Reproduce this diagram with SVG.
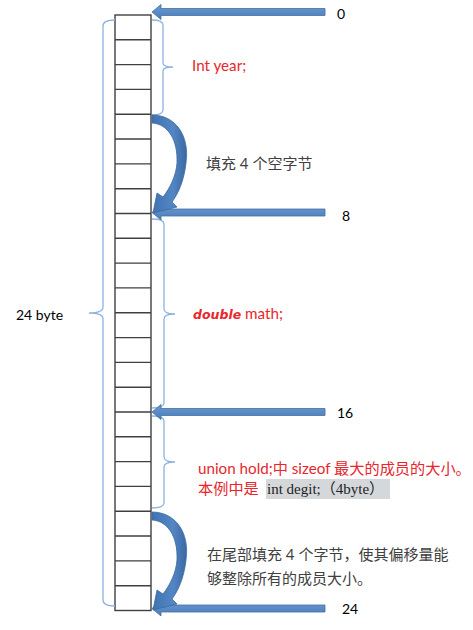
<svg xmlns="http://www.w3.org/2000/svg" width="473" height="630" viewBox="0 0 473 630">
<style>
.cell{fill:#fff;stroke:#404040;stroke-width:1.4}
.line{stroke:#404040;stroke-width:1.4}
.brace{fill:none;stroke:#8db3e2;stroke-width:1.3}
.arrow{fill:url(#ag);stroke:#41719c;stroke-width:0.8}
.curve{fill:url(#cg);stroke:#3b6aa0;stroke-width:0.8}
.lbl{font-family:Lato,"Liberation Sans",sans-serif;font-size:14px;fill:#000}
.red{font-family:Lato,"Noto Sans CJK SC",sans-serif;font-size:15.2px;fill:#e8262b}
.cn{font-family:Lato,"Noto Sans CJK SC",sans-serif;font-size:15px;fill:#404040}
.serif{font-family:"Liberation Serif","Noto Sans CJK SC",serif;font-size:15px;fill:#222}
</style>
<defs>
<linearGradient id="ag" x1="0" y1="0" x2="0" y2="1">
<stop offset="0" stop-color="#6a9ad4"/><stop offset="1" stop-color="#4a7cba"/>
</linearGradient>
<linearGradient id="cg" x1="0" y1="0" x2="1" y2="0">
<stop offset="0" stop-color="#3f72b0"/><stop offset="0.6" stop-color="#5486c4"/><stop offset="1" stop-color="#3a69a3"/>
</linearGradient>
<path id="sa" d="M0,0 L9,-7.5 L9,-3.5 L173,-3.5 L173,3.5 L9,3.5 L9,7.5 Z"/>
<path id="ca" d="M152,115 C175,115 190,135 186,163 C184,181 178,194 172,202 L177,207 L153,213 L157,193 L163,197 C170,188 176,176 177,163 C178,140 168,124 152,123 Z"/>
</defs>

<g id="column">
<rect class="cell" x="115" y="15" width="36" height="595.5"/>
<path class="line" d="M115,39.8H151M115,64.6H151M115,89.4H151M115,114.2H151M115,139H151M115,163.9H151M115,188.7H151M115,213.5H151M115,238.3H151M115,263.1H151M115,287.9H151M115,312.8H151M115,337.6H151M115,362.4H151M115,387.2H151M115,412H151M115,436.8H151M115,461.6H151M115,486.4H151M115,511.2H151M115,536H151M115,560.9H151M115,585.7H151"/>
</g>

<g id="braces">
<path class="brace" d="M115,20 Q103,20 103,26 L103,307 Q103,313 89,313 Q103,313 103,319 L103,600 Q103,606 115,606"/>
<path class="brace" d="M152,20 Q163,20 163,25 L163,63 Q163,67 173,67 Q163,67 163,71 L163,110 Q163,115 152,115"/>
<path class="brace" d="M152,219 Q164,219 164,224 L164,309 Q164,314 175,314 Q164,314 164,319 L164,403 Q164,408 152,408"/>
<path class="brace" d="M152,416 Q164,416 164,421 L164,457 Q164,462 175,462 Q164,462 164,467 L164,503 Q164,508 152,508"/>
</g>

<g id="connectors">
<use href="#sa" class="arrow" transform="translate(152,12)"/>
<use href="#sa" class="arrow" transform="translate(152,212.5)"/>
<use href="#sa" class="arrow" transform="translate(152,412)"/>
<use href="#sa" class="arrow" transform="translate(152,608.5)"/>
<use href="#ca" class="curve"/>
<use href="#ca" class="curve" transform="translate(0,397)"/>
</g>

<g id="labels">
<text class="lbl" x="337" y="19">0</text>
<text class="lbl" x="342" y="221">8</text>
<text class="lbl" x="337" y="418">16</text>
<text class="lbl" x="342" y="614">24</text>
<text class="lbl" x="16" y="320">24 byte</text>
</g>

<g id="texts">
<text class="red" x="192" y="71" font-size="14.8px">Int year;</text>
<text class="cn" x="206" y="169">填充 4 个空字节</text>
<text class="red" x="193" y="319"><tspan font-style="italic" font-weight="bold" font-family="'DejaVu Sans',sans-serif" font-size="12.5px">double</tspan> math;</text>
<text class="red" x="198" y="474">union hold;中 sizeof 最大的成员的大小。</text>
<rect x="266" y="479" width="124" height="20" fill="#d4d8db"/>
<text class="red" x="198" y="494">本例中是 </text>
<text class="serif" x="267" y="494">int degit;（4byte）</text>
<text class="cn" x="207" y="560" font-size="15.8px">在尾部填充 4 个字节，使其偏移量能</text>
<text class="cn" x="207" y="584" font-size="15.8px">够整除所有的成员大小。</text>
</g>
</svg>
